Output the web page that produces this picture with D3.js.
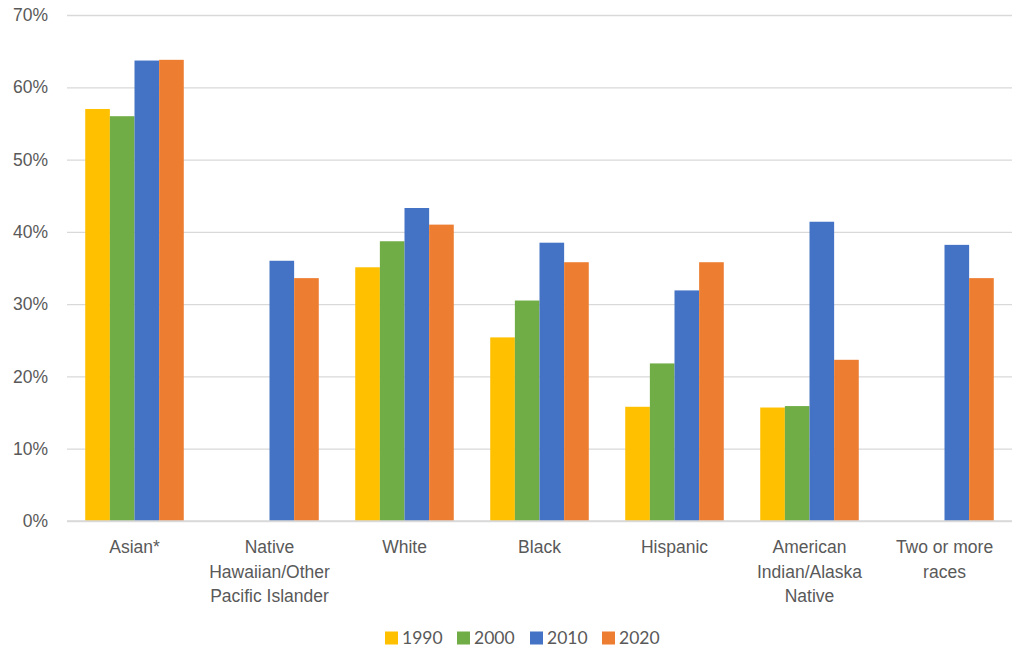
<!DOCTYPE html>
<html>
<head>
<meta charset="utf-8">
<script src="https://cdn.jsdelivr.net/npm/d3@7"></script>
<style>
  html, body { margin: 0; padding: 0; background: #fff; }
  svg { display: block; font-family: Lato, "Open Sans", sans-serif; }
</style>
</head>
<body>
<svg id="chart" width="1013" height="649"></svg>
<script>
// Groups along the x axis (line breaks marked with \n)
const categories = [
  "Asian*",
  "Native\nHawaiian/Other\nPacific Islander",
  "White",
  "Black",
  "Hispanic",
  "American\nIndian/Alaska\nNative",
  "Two or more\nraces"
];
const years = ["1990", "2000", "2010", "2020"];
// Share (%) per group; null where no value is reported
const values1990 = [57.0, null, 35.1, 25.4, 15.8, 15.7, null];
const values2000 = [56.0, null, 38.7, 30.5, 21.8, 15.9, null];
const values2010 = [63.7, 36.0, 43.3, 38.5, 31.9, 41.4, 38.2];
const values2020 = [63.8, 33.6, 41.0, 35.8, 35.8, 22.3, 33.6];
const yTicks = [0, 10, 20, 30, 40, 50, 60, 70];
const colors = ["#FFC000", "#70AD47", "#4472C4", "#ED7D31"];

const series = [values1990, values2000, values2010, values2020];

const svg = d3.select("#chart");
const margin = { left: 67, right: 1, top: 15, bottom: 128 };
const width = 1013, height = 649;
const fontSize = "17.5px";
const textColor = "#595959";

const x = d3.scaleBand()
  .domain(categories)
  .range([margin.left, width - margin.right])
  .paddingInner(0.27)
  .paddingOuter(0.135);

const xInner = d3.scaleBand()
  .domain(years)
  .range([0, x.bandwidth()]);

const y = d3.scaleLinear()
  .domain([0, 70])
  .range([height - margin.bottom, margin.top]);

// Horizontal gridlines and percent labels
const yAxis = d3.axisLeft(y)
  .tickValues(yTicks)
  .tickFormat(d => d + "%")
  .tickSize(-(width - margin.right - margin.left))
  .tickPadding(19);

const gy = svg.append("g")
  .attr("transform", `translate(${margin.left},0)`)
  .call(yAxis);
gy.select(".domain").remove();
gy.selectAll(".tick line").attr("stroke", "#D9D9D9").attr("stroke-width", 1.3);
gy.selectAll(".tick text")
  .attr("fill", textColor)
  .style("font-size", fontSize);

// Bars
const groups = svg.append("g")
  .selectAll("g")
  .data(series)
  .join("g")
  .attr("fill", (d, i) => colors[i]);

groups.each(function(vals, si) {
  d3.select(this).selectAll("rect")
    .data(vals.map((v, ci) => ({ v, c: categories[ci] })).filter(d => d.v != null))
    .join("rect")
    .attr("x", d => x(d.c) + xInner(years[si]))
    .attr("width", xInner.bandwidth())
    .attr("y", d => y(d.v))
    .attr("height", d => y(0) - y(d.v));
});

// Baseline
svg.append("line")
  .attr("x1", margin.left).attr("x2", width - margin.right)
  .attr("y1", y(0)).attr("y2", y(0))
  .attr("stroke", "#D9D9D9").attr("stroke-width", 1.3);

// Category labels
const xAxis = d3.axisBottom(x).tickSize(0).tickPadding(0);
const gx = svg.append("g")
  .attr("transform", `translate(0,${y(0)})`)
  .call(xAxis);
gx.select(".domain").remove();
gx.selectAll(".tick text").each(function(d) {
  const t = d3.select(this);
  t.text(null)
    .attr("fill", textColor)
    .attr("y", 0)
    .attr("dy", null)
    .style("font-size", fontSize);
  d.split("\n").forEach((line, i) => {
    t.append("tspan")
      .attr("x", 0)
      .attr("y", 32 + i * 24.5)
      .text(line);
  });
});

// Legend
const legend = svg.append("g").attr("transform", "translate(0,644)");
const legendX = [385, 457, 530, 602];
years.forEach((yr, i) => {
  const g = legend.append("g").attr("transform", `translate(${legendX[i]},0)`);
  g.append("rect")
    .attr("x", 0).attr("y", -12.5)
    .attr("width", 13).attr("height", 13)
    .attr("fill", colors[i]);
  g.append("text")
    .attr("x", 17).attr("y", 0)
    .attr("fill", textColor)
    .style("font-size", fontSize)
    .text(yr);
});
</script>
</body>
</html>
